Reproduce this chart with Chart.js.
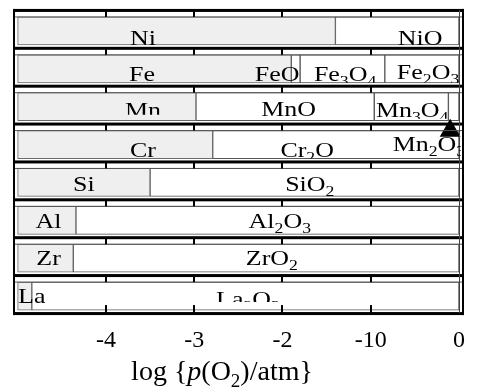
<!DOCTYPE html>
<html><head><meta charset="utf-8">
<script src="https://cdn.jsdelivr.net/npm/chart.js@4"></script>
<style>html,body{margin:0;padding:0;background:#fff}#wrap{width:477px;height:387px}</style>
</head><body><div id="wrap"><canvas id="c" width="477" height="387"></canvas></div>
<script>
// ---------- DATA ----------
const categories = ['Ni','Fe','Mn','Cr','Si','Al','Zr','La'];
// stability ranges on the log p(O2) axis, one [start,end] per element row
const metalPhase  = [[-5,-1.40],[-5,-1.90],[-5,-2.98],[-5,-2.79],[-5,-3.50],[-5,-4.34],[-5,-4.37],[-5,-4.84]];
const oxidePhase1 = [[-1.40,0],[-1.90,-1.80],[-2.98,-0.96],[-2.79,0],[-3.50,0],[-4.34,0],[-4.37,0],[-4.84,0]];
const oxidePhase2 = [null,[-1.80,-0.84],[-0.96,-0.12],null,null,null,null,null];
const oxidePhase3 = [null,[-0.84,0],[-0.12,0],null,null,null,null,null];
const tickValues = [-4,-3,-2,-1,0];
const tickLabels = ['-4','-3','-2','-10','0'];
const markerPoint = [{x:-0.10, y:2.54}];
// phase labels: text, row, anchor value on axis
const labelTexts = ['Ni','NiO','Fe','FeO','Fe3O4','Fe2O3','Mn','MnO','Mn3O4','Mn2O3','Cr','Cr2O','Si','SiO2','Al','Al2O3','Zr','ZrO2','La','La2O3'];
const labelRows  = [0,0,1,1,1,1,2,2,2,3,3,3,4,4,5,5,6,6,7,7];
const labelAt    = [-3.58,-0.44,-3.59,-2.06,-1.29,-0.35,-3.58,-1.93,-0.53,-0.34,-3.58,-1.72,-4.25,-1.69,-4.65,-2.03,-4.65,-2.12,-4.84,-2.39];
// ---------- LAYOUT ----------
const labelDy    = [35,35,33,33,33,31,31,30,31,27,33,33,30,30,29,29,28,28,28,31];
const labelClip  = [35,35,35,35,35,35,29,35,33,35,35,35,35,35,35,35,35,35,35,27];
const FONT = '"Liberation Serif", "Times New Roman", serif';
const FS = 24;

function runs(text){
  const r=[]; for(const ch of text){const sub=/[0-9]/.test(ch);
    if(r.length&&r[r.length-1].sub===sub) r[r.length-1].t+=ch; else r.push({t:ch,sub});}
  return r;
}
function drawRuns(ctx, rs, cx, base, fs, sub, sx){
  sx = sx||1;
  let w=0;
  for(const r of rs){ctx.font=(r.it?'italic ':'')+(r.sub?sub:fs)+'px '+FONT; r.w=ctx.measureText(r.t).width*sx; w+=r.w;}
  let xx=cx-w/2;
  for(const r of rs){
    ctx.font=(r.it?'italic ':'')+(r.sub?sub:fs)+'px '+FONT;
    ctx.save(); ctx.translate(xx, base+(r.sub?Math.round(fs*0.24):0)); ctx.scale(sx,1);
    ctx.fillText(r.t,0,0); ctx.restore();
    xx+=r.w;
  }
}

const framePlugin = {
  id:'frame',
  afterDatasetsDraw(chart){
    const {ctx, chartArea:ca, scales:{x,y}} = chart;
    const n = categories.length;
    ctx.save();
    ctx.fillStyle='#000';
    const L=13, R=464;
    const tops=[];
    for(let i=0;i<n;i++) tops.push(y.getPixelForValue(i)-21);
    const bottom = tops[n-1]+38;
    for(let i=0;i<n;i++){
      const T=tops[i];
      ctx.fillRect(L,T-1,R-L,3);
      ctx.fillStyle='#555'; ctx.fillRect(L+2,T+6.5,R-L-4,1); ctx.fillStyle='#000';
      for(const v of tickValues.slice(0,4)){const px=Math.round(x.getPixelForValue(v)); ctx.fillRect(px-1,T,2,7);}
    }
    ctx.fillRect(L,bottom-1,R-L,3);
    for(const v of tickValues.slice(0,4)){const px=Math.round(x.getPixelForValue(v)); ctx.fillRect(px-1,bottom-8,2,8);}
    ctx.fillRect(L,tops[0]-1,2,bottom-tops[0]+3);
    ctx.fillRect(R-2,tops[0]-1,2,bottom-tops[0]+3);
    ctx.fillStyle='#444'; ctx.fillRect(R-5,tops[0],1,bottom-tops[0]);
    // labels
    ctx.fillStyle='#000'; ctx.textBaseline='alphabetic';
    for(let k=0;k<labelTexts.length;k++){
      const T=tops[labelRows[k]];
      ctx.save();
      ctx.beginPath(); ctx.rect(L+2,T+7,R-L-5,labelClip[k]-7); ctx.clip();
      drawRuns(ctx, runs(labelTexts[k]), x.getPixelForValue(labelAt[k]), T+labelDy[k], 22, 15, 1.18);
      ctx.restore();
    }
    // axis title
    drawRuns(ctx,[{t:'log {'},{t:'p',it:true},{t:'(O'},{t:'2',sub:true},{t:')/atm}'}],222,380,28,19,1);
    ctx.restore();
  }
};

const barBase = {indexAxis:'y', grouped:false, barThickness:28, borderWidth:1, borderSkipped:false};
new Chart(document.getElementById('c'), {
  type:'bar',
  data:{labels:categories, datasets:[
    Object.assign({label:'metal', data:metalPhase, backgroundColor:'#efefef', borderColor:'#6a6a6a'}, barBase),
    Object.assign({label:'oxide 1', data:oxidePhase1, backgroundColor:'#ffffff', borderColor:'#555'}, barBase),
    Object.assign({label:'oxide 2', data:oxidePhase2, backgroundColor:'#ffffff', borderColor:'#555'}, barBase),
    Object.assign({label:'oxide 3', data:oxidePhase3, backgroundColor:'#ffffff', borderColor:'#555'}, barBase),
    {type:'scatter', label:'marker', data:markerPoint, xAxisID:'x', yAxisID:'y2', pointStyle:'triangle', pointRadius:12, backgroundColor:'#000', borderColor:'#000', borderWidth:0, order:-1, clip:false}
  ]},
  options:{
    responsive:false, animation:false, indexAxis:'y',
    layout:{padding:{left:15,right:16,top:12,bottom:0}},
    plugins:{legend:{display:false}, tooltip:{enabled:false}},
    scales:{
      x:{type:'linear', position:'bottom', min:-5.03, max:0.023,
        grid:{display:false, drawTicks:false}, border:{display:false},
        afterBuildTicks:s=>{s.ticks=tickValues.map(v=>({value:v}));},
        afterFit:s=>{s.height=72;},
        ticks:{padding:11, color:'#000', font:{family:FONT, size:FS}, maxRotation:0, autoSkip:false,
          callback:(v)=>tickLabels[tickValues.indexOf(v)]}},
      y:{type:'category', labels:categories, display:false},
      y2:{type:'linear', display:false, min:-0.5, max:7.5, reverse:true}
    }
  },
  plugins:[framePlugin]
});
</script></body></html>
